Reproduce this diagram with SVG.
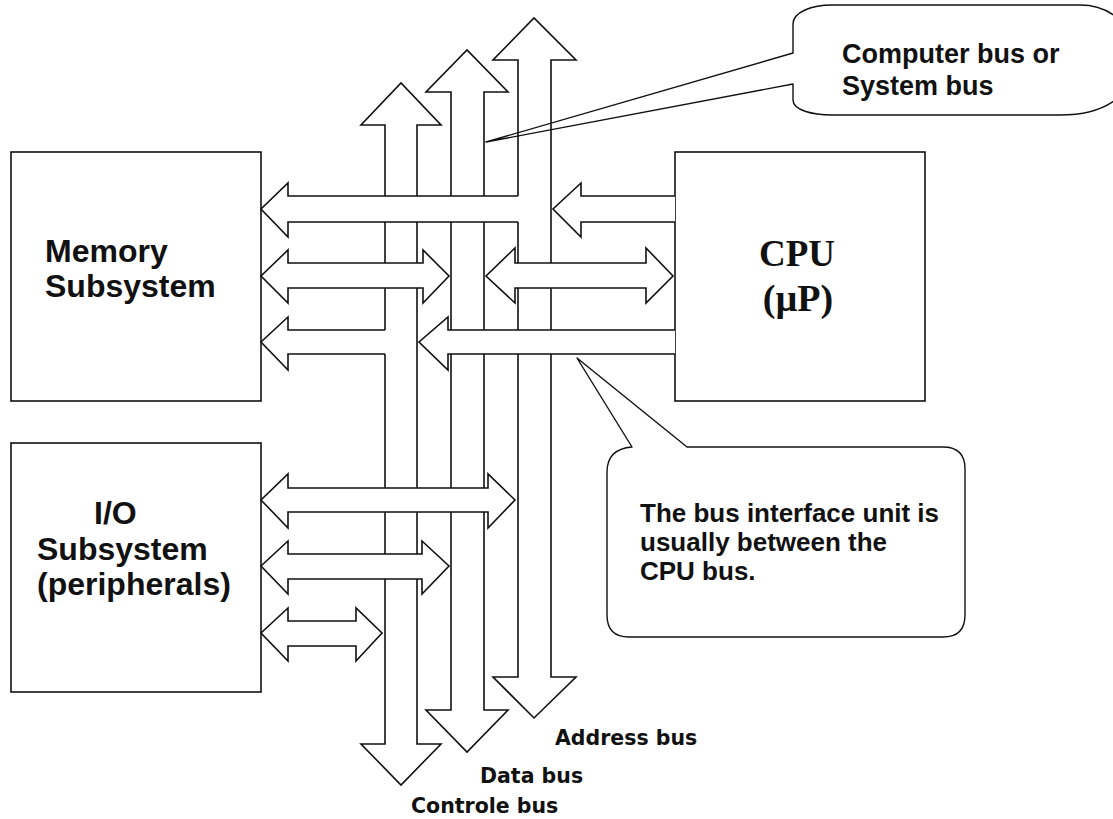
<svg xmlns="http://www.w3.org/2000/svg" width="1113" height="819" viewBox="0 0 1113 819">
  <style>
    .box { fill: #fff; stroke: #111; stroke-width: 1.6; }
    .bus { fill: #fff; stroke: #111; stroke-width: 1.6; stroke-linejoin: miter; }
    .cover { fill: #fff; stroke: none; }
    .edge { fill: none; stroke: #111; stroke-width: 1.6; }
    .call { fill: none; stroke: #111; stroke-width: 1.4; stroke-linejoin: round; }
    .lbl { font-family: "Liberation Sans", Arial, sans-serif; font-weight: bold; fill: #111; }
    .cpu { font-family: "Liberation Serif", "Times New Roman", serif; font-weight: bold; fill: #111; }
    .busname { font-family: "DejaVu Sans", Verdana, sans-serif; font-weight: bold; fill: #111; font-size: 20.5px; }
  </style>

  <rect width="1113" height="819" fill="#fff"/>

  <!-- Subsystem blocks -->
  <g id="memory">
    <rect class="box" x="11" y="152" width="250" height="249"/>
    <text class="lbl" font-size="32" x="45" y="262">Memory</text>
    <text class="lbl" font-size="32" x="45" y="297">Subsystem</text>
  </g>
  <g id="io">
    <rect class="box" x="11" y="443" width="250" height="249"/>
    <text class="lbl" font-size="32" x="94" y="524">I/O</text>
    <text class="lbl" font-size="32" x="37" y="560">Subsystem</text>
    <text class="lbl" font-size="32" x="37" y="595">(peripherals)</text>
  </g>
  <g id="cpu">
    <rect class="box" x="675" y="152" width="250" height="249"/>
    <text class="cpu" font-size="37" x="797" y="266" text-anchor="middle">CPU</text>
    <text class="cpu" font-size="38" x="798" y="311" text-anchor="middle">(µP)</text>
  </g>

  <g id="connectors">
    <!-- vertical system buses -->
    <g id="control-bus">
      <path class="bus" d="M385,744 V125 H361 L401,83 L441,125 H417 V744 H441 L401,785 L361,744 Z"/>
    </g>
    <g id="data-bus">
      <path class="bus" d="M451,710 V92 H426 L467,50 L508,92 H484 V710 H508 L467,752 L426,710 Z"/>
    </g>
    <g id="address-bus">
      <path class="bus" d="M518,677 V60 H493 L534,18 L576,60 H551 V677 H576 L534,718 L493,677 Z"/>
    </g>

    <!-- address bus -> memory (joins the address bus) -->
    <path class="cover" d="M520,196 H288 V183 L261,209 L288,237 V222 H520 Z"/>
    <path class="edge" d="M518,196 H288 V183 L261,209 L288,237 V222 H518"/>

    <!-- CPU -> address bus -->
    <path class="cover" d="M675,196 H581 V183 L553,209 L581,237 V222 H675 Z"/>
    <path class="edge" d="M675,196 H581 V183 L553,209 L581,237 V222 H675"/>

    <!-- memory <-> data bus -->
    <path class="bus" d="M288,263 V250 L261,276 L288,303 V288 H423 V303 L449,276 L423,250 V263 Z"/>

    <!-- address bus <-> CPU -->
    <path class="bus" d="M515,263 V248 L486,276 L515,303 V288 H646 V303 L673,276 L646,248 V263 Z"/>

    <!-- control bus -> memory (joins the control bus) -->
    <path class="cover" d="M387,330 H288 V317 L261,342 L288,370 V354 H387 Z"/>
    <path class="edge" d="M385,330 H288 V317 L261,342 L288,370 V354 H385"/>

    <!-- CPU -> control bus -->
    <path class="cover" d="M675,330 H448 V317 L419,342 L448,370 V354 H675 Z"/>
    <path class="edge" d="M675,330 H448 V317 L419,342 L448,370 V354 H675"/>

    <!-- I/O <-> address bus -->
    <path class="bus" d="M288,488 V474 L261,500 L288,528 V512 H488 V528 L515,500 L488,474 V488 Z"/>
    <!-- I/O <-> data bus -->
    <path class="bus" d="M288,554 V541 L261,566 L288,594 V579 H422 V594 L449,566 L422,541 V554 Z"/>
    <!-- I/O <-> control bus -->
    <path class="bus" d="M288,621 V608 L261,633 L288,661 V646 H356 V661 L382,633 L356,608 V621 Z"/>
  </g>

  <!-- callouts -->
  <g id="callout-system-bus">
    <path class="call" d="M793,53 L486,142 L793,84 V100 C793,110 812,115 832,115 H1060 C1105,115 1135,95 1135,60 C1135,25 1110,5 1080,5 H832 C812,5 793,12 793,24 Z"/>
    <text class="lbl" font-size="27" x="842" y="63">Computer bus or</text>
    <text class="lbl" font-size="27" x="842" y="95">System bus</text>
  </g>
  <g id="callout-biu">
    <path class="call" d="M632,447 L577,358 L687,447 H943 Q965,447 965,469 V615 Q965,637 943,637 H629 Q607,637 607,615 V472 Q607,449 632,447 Z"/>
    <text class="lbl" font-size="26" x="640" y="522">The bus interface unit is</text>
    <text class="lbl" font-size="26" x="640" y="551">usually between the</text>
    <text class="lbl" font-size="26" x="640" y="580">CPU bus.</text>
  </g>

  <!-- bus names -->
  <g id="bus-labels">
    <text class="busname" x="555" y="745">Address bus</text>
    <text class="busname" x="480" y="783">Data bus</text>
    <text class="busname" x="411" y="813">Controle bus</text>
  </g>
</svg>
